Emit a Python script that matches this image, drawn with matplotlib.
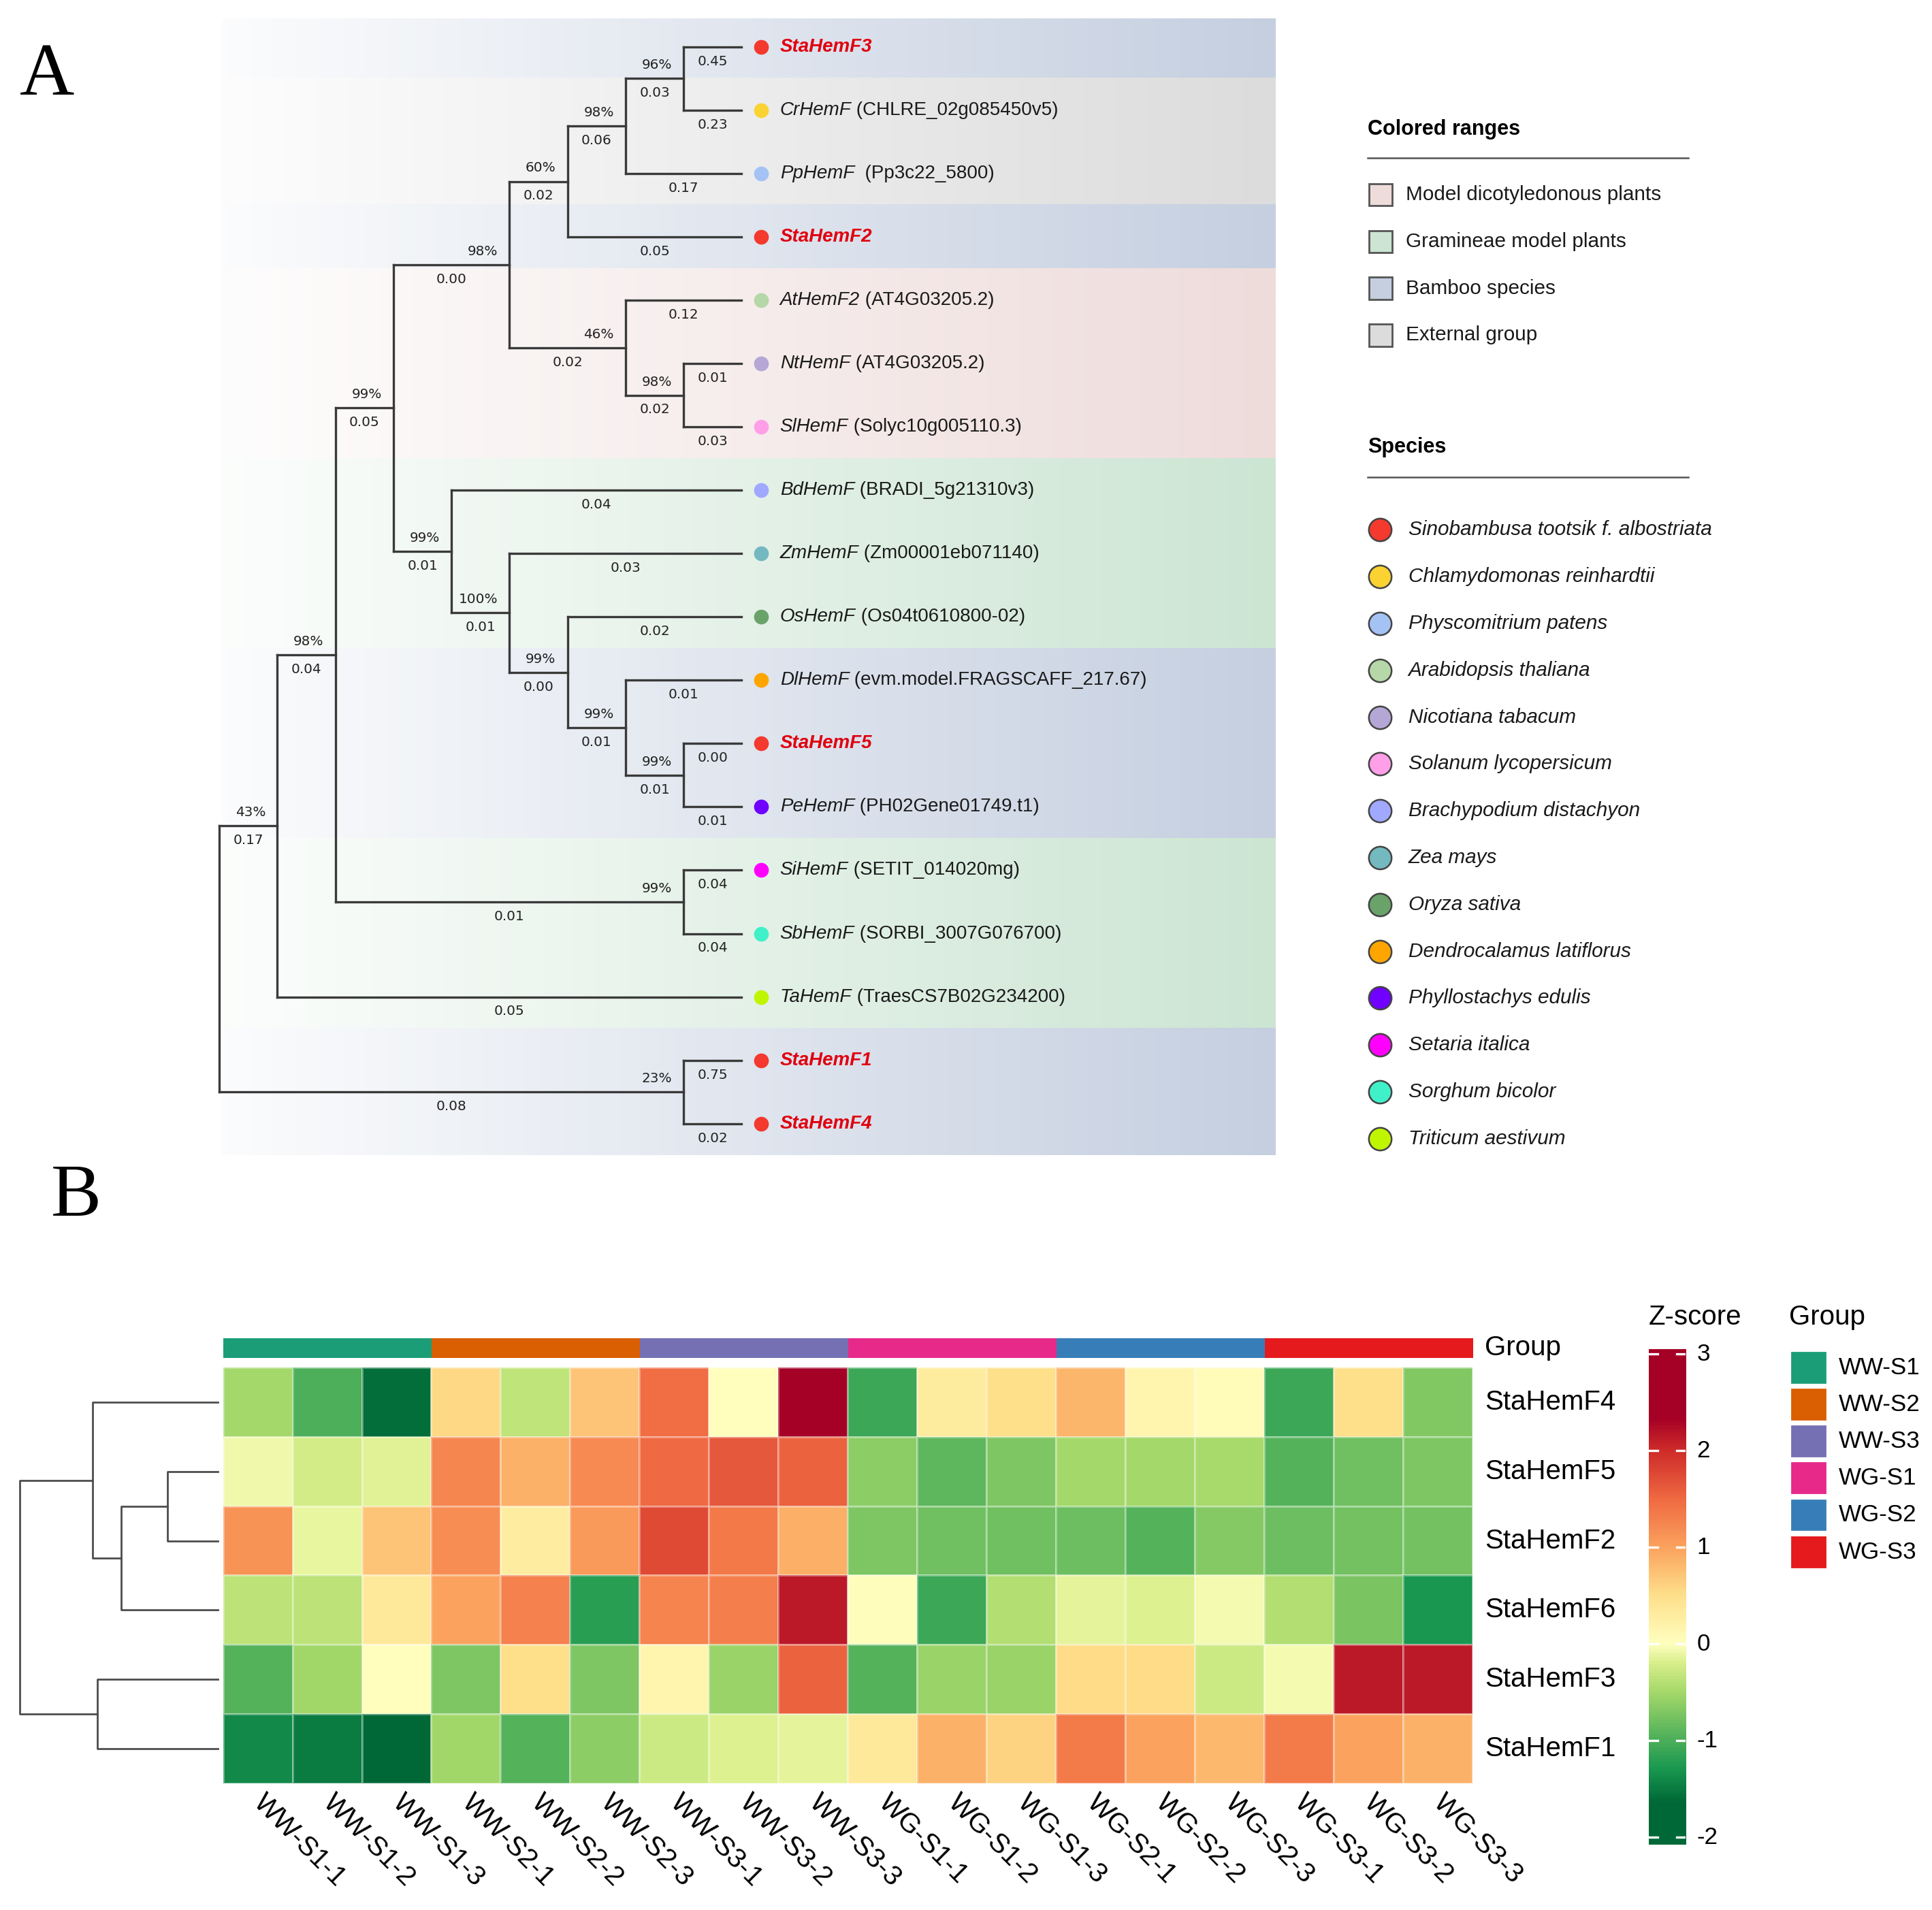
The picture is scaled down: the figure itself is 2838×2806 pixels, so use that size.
import numpy as np
import matplotlib
matplotlib.use('Agg')
import matplotlib.pyplot as plt
from matplotlib.colors import LinearSegmentedColormap, Normalize, ListedColormap, to_rgb
from matplotlib.patches import Rectangle

# ---------------- panel A : gene tree ----------------
leaf_names = ['StaHemF3', 'CrHemF', 'PpHemF', 'StaHemF2', 'AtHemF2', 'NtHemF', 'SlHemF',
              'BdHemF', 'ZmHemF', 'OsHemF', 'DlHemF', 'StaHemF5', 'PeHemF', 'SiHemF',
              'SbHemF', 'TaHemF', 'StaHemF1', 'StaHemF4']
leaf_ids = ['', '(CHLRE_02g085450v5)', ' (Pp3c22_5800)', '', '(AT4G03205.2)', '(AT4G03205.2)',
            '(Solyc10g005110.3)', '(BRADI_5g21310v3)', '(Zm00001eb071140)', '(Os04t0610800-02)',
            '(evm.model.FRAGSCAFF_217.67)', '', '(PH02Gene01749.t1)', '(SETIT_014020mg)',
            '(SORBI_3007G076700)', '(TraesCS7B02G234200)', '', '']
leaf_species = [0, 1, 2, 0, 3, 4, 5, 6, 7, 8, 9, 0, 10, 11, 12, 13, 0, 0]
leaf_range = [2, 3, 3, 2, 0, 0, 0, 1, 1, 1, 2, 2, 2, 1, 1, 1, 2, 2]
leaf_len = ['0.45', '0.23', '0.17', '0.05', '0.12', '0.01', '0.03', '0.04', '0.03', '0.02',
            '0.01', '0.00', '0.01', '0.04', '0.04', '0.05', '0.75', '0.02']

range_names = ['Model dicotyledonous plants', 'Gramineae model plants', 'Bamboo species', 'External group']
range_colors = ['#eedcdb', '#cce5d3', '#c5cfe0', '#dcdcdc']

species_names = ['Sinobambusa tootsik f. albostriata', 'Chlamydomonas reinhardtii',
                 'Physcomitrium patens', 'Arabidopsis thaliana', 'Nicotiana tabacum',
                 'Solanum lycopersicum', 'Brachypodium distachyon', 'Zea mays', 'Oryza sativa',
                 'Dendrocalamus latiflorus', 'Phyllostachys edulis', 'Setaria italica',
                 'Sorghum bicolor', 'Triticum aestivum']
species_colors = ['#f4392e', '#fad232', '#a4c2f4', '#b6d7a8', '#b4a7d6', '#ff9fe8', '#a0a8ff',
                  '#74b8c0', '#6aa36a', '#ffa500', '#7000ff', '#ff00ff', '#40f0c8', '#c0f500']


def N(boot, blen, *kids):
    return {'boot': boot, 'len': blen, 'kids': list(kids)}


tree = N('', '',
         N('43%', '0.17',
           N('98%', '0.04',
             N('99%', '0.05',
               N('98%', '0.00',
                 N('60%', '0.02',
                   N('98%', '0.06', N('96%', '0.03', 0, 1), 2),
                   3),
                 N('46%', '0.02', 4, N('98%', '0.02', 5, 6))),
               N('99%', '0.01',
                 7,
                 N('100%', '0.01',
                   8,
                   N('99%', '0.00',
                     9,
                     N('99%', '0.01', 10, N('99%', '0.01', 11, 12)))))),
             N('99%', '0.01', 13, 14)),
           15),
         N('23%', '0.08', 16, 17))

# ---------------- panel B : heatmap ----------------
genes = ['StaHemF4', 'StaHemF5', 'StaHemF2', 'StaHemF6', 'StaHemF3', 'StaHemF1']
samples = ['WW-S1-1', 'WW-S1-2', 'WW-S1-3', 'WW-S2-1', 'WW-S2-2', 'WW-S2-3',
           'WW-S3-1', 'WW-S3-2', 'WW-S3-3', 'WG-S1-1', 'WG-S1-2', 'WG-S1-3',
           'WG-S2-1', 'WG-S2-2', 'WG-S2-3', 'WG-S3-1', 'WG-S3-2', 'WG-S3-3']
groups = ['WW-S1', 'WW-S2', 'WW-S3', 'WG-S1', 'WG-S2', 'WG-S3']
sample_group = [0, 0, 0, 1, 1, 1, 2, 2, 2, 3, 3, 3, 4, 4, 4, 5, 5, 5]
group_colors = ['#1b9e77', '#d95f02', '#7570b3', '#e7298a', '#377eb8', '#e41a1c']
zscore = np.array([
    [-0.50, -1.00, -1.60, 0.56, -0.35, 0.72, 1.46, 0.02, 2.80, -1.10, 0.32, 0.50, 0.84, 0.16, 0.06, -1.10, 0.50, -0.70],
    [-0.08, -0.23, -0.16, 1.25, 0.89, 1.21, 1.50, 1.65, 1.57, -0.64, -0.90, -0.73, -0.50, -0.50, -0.48, -0.95, -0.80, -0.72],
    [1.14, -0.12, 0.72, 1.20, 0.29, 1.07, 1.76, 1.36, 0.91, -0.72, -0.80, -0.80, -0.82, -0.95, -0.68, -0.82, -0.77, -0.77],
    [-0.37, -0.37, 0.35, 1.00, 1.30, -1.20, 1.28, 1.31, 2.15, 0.05, -1.10, -0.42, -0.13, -0.17, -0.06, -0.42, -0.75, -1.30],
    [-0.95, -0.53, 0.02, -0.72, 0.50, -0.72, 0.15, -0.57, 1.57, -0.95, -0.57, -0.57, 0.53, 0.53, -0.27, -0.06, 2.15, 2.15],
    [-1.40, -1.50, -1.80, -0.53, -0.95, -0.64, -0.27, -0.17, -0.14, 0.35, 0.89, 0.60, 1.34, 1.00, 0.83, 1.34, 1.00, 0.89],
])
# row clustering: (cluster a, cluster b, height); new clusters are numbered from 6
row_merges = [(1, 2, 1.02), (6, 3, 1.95), (0, 7, 2.53), (4, 5, 2.43), (8, 9, 4.0)]

cb_vals = [-2.0, -1.65, -1.3, -1.0, -0.5, -0.2, 0.0, 0.5, 1.0, 1.5, 2.0, 2.35, 3.0]
cb_cols = ['#006837', '#006837', '#1a9850', '#4daf5a', '#a6d96a', '#d9ef8b', '#ffffbf',
           '#fee08b', '#fba35e', '#f06a42', '#cf2d2a', '#a50026', '#a50026']

# ---------------- layout (reference units) ----------------
W, H = 1568, 1550
SANS = 'Liberation Sans'
RED = '#e0000f'


def box(x0, y0, x1, y1):
    return [x0 / W, 1 - y1 / H, (x1 - x0) / W, (y1 - y0) / H]


def height(n):
    return 0 if isinstance(n, int) else 1 + max(height(k) for k in n['kids'])


TOP = height(tree)


def draw_tree(ax, n):
    if isinstance(n, int):
        return TOP, n
    xn = TOP - height(n)
    pts = [draw_tree(ax, k) for k in n['kids']]
    ys = [p[1] for p in pts]
    yn = (ys[0] + ys[-1]) / 2
    lk = dict(color='#3a3a3a', lw=1.2, solid_capstyle='projecting', zorder=3, clip_on=False)
    ax.plot([xn, xn], [min(ys), max(ys)], **lk)
    for k, (xk, yk) in zip(n['kids'], pts):
        ax.plot([xn, xk], [yk, yk], **lk)
        blen = leaf_len[k] if isinstance(k, int) else k['len']
        ax.text((xn + xk) / 2, yk + 0.23, blen, ha='center', va='center',
                fontsize=7.2, family='DejaVu Sans', color='#222', zorder=4)
        if not isinstance(k, int):
            ax.text(xk - 0.2, yk - 0.21, k['boot'], ha='right', va='center',
                    fontsize=7.2, family='DejaVu Sans', color='#222', zorder=4)
    return xn, yn


fig = plt.figure(figsize=(14.19, 14.03), dpi=200)

# ---- tree ----
unit_x, x_root = 47.1, 178
unit_y, y_first = 51.4, 38
bx0, bx1, by0, by1 = 180, 1035, 15, 940
ax = fig.add_axes(box(bx0, by0, bx1, by1))
xl = ((bx0 - x_root) / unit_x, (bx1 - x_root) / unit_x)
yl = ((by1 - y_first) / unit_y, (by0 - y_first) / unit_y)
grad = np.linspace(0.06, 1.0, 256)
for i, r in enumerate(leaf_range):
    c = np.array(to_rgb(range_colors[r]))
    img = 1 - grad[:, None] * (1 - c)
    ax.imshow(img[None], extent=[xl[0], xl[1], i + 0.5, i - 0.5], aspect='auto',
              interpolation='bilinear', zorder=0)
draw_tree(ax, tree)
for i, name in enumerate(leaf_names):
    sta = name.startswith('Sta')
    ax.plot(TOP + 0.33, i, 'o', ms=7.8, color=species_colors[leaf_species[i]], mew=0, zorder=5)
    t = ax.text(TOP + 0.66, i, name, ha='left', va='center', style='italic', family=SANS,
                fontsize=10, fontweight='bold' if sta else 'normal',
                color=RED if sta else '#1a1a1a', zorder=5)
    if leaf_ids[i]:
        ax.annotate(' ' + leaf_ids[i], xy=(1, 0), xycoords=t, ha='left', va='bottom',
                    family=SANS, fontsize=10, color='#1a1a1a')
ax.set_xlim(*xl)
ax.set_ylim(*yl)
ax.axis('off')

# ---- overlay for legends and panel letters ----
lay = fig.add_axes([0, 0, 1, 1])
lay.set_xlim(0, W)
lay.set_ylim(H, 0)
lay.axis('off')
lay.text(38, 62, 'A', fontsize=40, family='Liberation Serif', ha='center', va='center')
lay.text(62, 972, 'B', fontsize=40, family='Liberation Serif', ha='center', va='center')

lay.text(1110, 105, 'Colored ranges', fontsize=11, fontweight='bold', family=SANS, va='center')
lay.plot([1110, 1370], [128, 128], color='#555', lw=0.9)
for k, name in enumerate(range_names):
    y = 158 + 38 * k
    lay.add_patch(Rectangle((1111, y - 9), 19, 18, facecolor=range_colors[k],
                            edgecolor='#555', lw=1.0))
    lay.text(1141, y, name, fontsize=10.7, family=SANS, va='center', color='#1a1a1a')

lay.text(1110, 363, 'Species', fontsize=11, fontweight='bold', family=SANS, va='center')
lay.plot([1110, 1370], [387, 387], color='#555', lw=0.9)
for k, name in enumerate(species_names):
    y = 430 + 38 * k
    lay.plot(1120, y, 'o', ms=12, color=species_colors[k], mec='#444', mew=0.9)
    lay.text(1143, y, name, fontsize=10.7, family=SANS, style='italic', va='center',
             color='#1a1a1a')

# ---- heatmap ----
cmap = LinearSegmentedColormap.from_list(
    'zs', [((v - cb_vals[0]) / (cb_vals[-1] - cb_vals[0]), c) for v, c in zip(cb_vals, cb_cols)])
norm = Normalize(cb_vals[0], cb_vals[-1])
hx0, hx1, hy0, hy1 = 181, 1195, 1110, 1447
nr, nc = zscore.shape

hm = fig.add_axes(box(hx0, hy0, hx1, hy1))
hm.pcolormesh(np.arange(nc + 1), np.arange(nr + 1), zscore, cmap=cmap, norm=norm,
              edgecolors=(1, 1, 1, 0.35), linewidth=0.5)
hm.set_xlim(0, nc)
hm.set_ylim(nr, 0)
hm.axis('off')
for r, g in enumerate(genes):
    hm.text(nc + 0.18, r + 0.5, g, ha='left', va='center', fontsize=14.5, family=SANS)
for c, s in enumerate(samples):
    hm.text(c + 0.5, nr + 0.22, s, ha='left', va='center', rotation=-45,
            rotation_mode='anchor', fontsize=14.5, family=SANS)

an = fig.add_axes(box(hx0, 1086, hx1, 1102))
an.imshow(np.array(sample_group)[None], cmap=ListedColormap(group_colors),
          vmin=-0.5, vmax=len(groups) - 0.5, aspect='auto', extent=[0, nc, 1, 0],
          interpolation='nearest')
an.set_xlim(0, nc)
an.axis('off')
an.text(nc + 0.18, 0.5, 'Group', ha='left', va='center', fontsize=14.5, family=SANS)

# row dendrogram
dn = fig.add_axes(box(16, hy0, 177, hy1))
pos = {i: (i + 0.5, 0.0) for i in range(nr)}
for j, (a, b, h) in enumerate(row_merges):
    ya, ha_ = pos[a]
    yb, hb = pos[b]
    dn.plot([ha_, h, h, hb], [ya, ya, yb, yb], color='#4d4d4d', lw=1.0, clip_on=False)
    pos[nr + j] = ((ya + yb) / 2, h)
dn.set_xlim(row_merges[-1][2], 0)
dn.set_ylim(nr, 0)
dn.axis('off')

# colour key
cb = fig.add_axes(box(1338, 1095, 1368, 1497))
lo, hi = -2.077, 3.05
cb.imshow(np.linspace(lo, hi, 400)[:, None], cmap=cmap, norm=norm, origin='lower',
          extent=[0, 1, lo, hi], aspect='auto', interpolation='bilinear')
for v in range(-2, 4):
    cb.plot([0, 0.24], [v, v], color='white', lw=1.2)
    cb.plot([0.76, 1], [v, v], color='white', lw=1.2)
    cb.text(1.3, v, str(v), ha='left', va='center', fontsize=12.6, family=SANS)
cb.set_xlim(0, 1)
cb.set_ylim(lo, hi)
cb.axis('off')
lay.text(1376, 1069, 'Z-score', ha='center', va='center', fontsize=14.5, family=SANS)

# group legend
lay.text(1452, 1069, 'Group', ha='left', va='center', fontsize=14.5, family=SANS)
for k, g in enumerate(groups):
    y = 1110 + 29.9 * k
    lay.add_patch(Rectangle((1453, y - 13.5), 30, 27, facecolor=group_colors[k],
                            edgecolor='white', lw=0.8))
    lay.text(1492, y, g, ha='left', va='center', fontsize=12.6, family=SANS)

fig.savefig('out.png', dpi=200, facecolor='white')
